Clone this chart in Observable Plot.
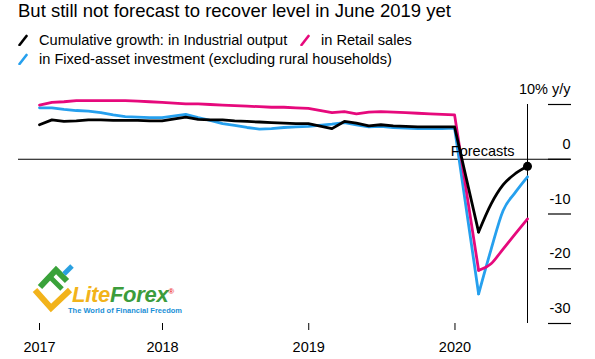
<!DOCTYPE html>
<html><head><meta charset="utf-8">
<script src="https://cdn.jsdelivr.net/npm/d3@7"></script>
<script src="https://cdn.jsdelivr.net/npm/@observablehq/plot@0.6"></script>
<style>
body{margin:0;background:#fff;font-family:"Liberation Sans",Arial,sans-serif;color:#000}
#wrap{position:relative;width:595px;height:359px;overflow:hidden;background:#fff}
#title{position:absolute;left:18px;top:0px;font-size:18.5px;line-height:21px;white-space:nowrap}
.leg{position:absolute;font-size:14.6px;line-height:18px;white-space:nowrap}
.leg svg{vertical-align:-1px;margin-right:11px}
#chart{position:absolute;left:0;top:72px}
#logo{position:absolute;left:0;top:250px;width:200px;height:70px}
#lt{position:absolute;left:72px;top:282px;font-size:22px;font-weight:bold;font-style:italic;white-space:nowrap;letter-spacing:-0.3px}
#ls{position:absolute;left:68px;top:306px;font-size:7.5px;font-weight:bold;color:#1a8fd6;white-space:nowrap}
</style></head><body>
<div id="wrap">
  <div id="title">But still not forecast to recover level in June 2019 yet</div>
  <div class="leg" id="leg1" style="left:18px;top:31px"></div>
  <div class="leg" id="leg2" style="left:300px;top:31px"></div>
  <div class="leg" id="leg3" style="left:18px;top:50px"></div>
  <div id="chart"></div>
  <svg id="logo" viewBox="0 250 200 70">
    <polyline points="35,290 51,308 70,290" fill="none" stroke="#f2b31b" stroke-width="6"/>
    <polyline points="40,287 56,270 67,281" fill="none" stroke="#3aa23a" stroke-width="6"/>
    <line x1="48" y1="275" x2="62" y2="289" stroke="#3aa23a" stroke-width="5"/>
    <line x1="64" y1="274" x2="72" y2="266" stroke="#2aa0e0" stroke-width="5"/>
  </svg>
  <div id="lt"><span style="color:#f2b31b">Lite</span><span style="color:#3c9c3c">Forex</span><sup style="color:#e33;font-size:8px;font-style:normal">®</sup></div>
  <div id="ls">The World of Financial Freedom</div>
</div>
<script>
// ---- data (cumulative y/y growth, %) ----
const months = [
  "2017-02","2017-03","2017-04","2017-05","2017-06","2017-07","2017-08","2017-09","2017-10","2017-11","2017-12",
  "2018-02","2018-03","2018-04","2018-05","2018-06","2018-07","2018-08","2018-09","2018-10","2018-11","2018-12",
  "2019-02","2019-03","2019-04","2019-05","2019-06","2019-07","2019-08","2019-09","2019-10","2019-11","2019-12",
  "2020-02","2020-03","2020-04","2020-05","2020-06"
];
const firstForecastMonth = "2020-02"; // forecast segment starts at the last actual point
const industrialOutput = [
  6.3, 7.2, 6.9, 7.0, 7.2, 7.2, 7.1, 7.1, 7.1, 7.0, 7.0,
  7.7, 7.3, 7.2, 7.2, 7.0, 6.9, 6.8, 6.7, 6.6, 6.5, 6.5,
  5.6, 6.9, 6.6, 6.1, 6.3, 6.1, 6.0, 5.9, 5.9, 5.9, 5.9,
  -13.3, -8.2, -4.7, -2.6, -1.3
];
const retailSales = [
  9.9, 10.4, 10.5, 10.7, 10.7, 10.7, 10.7, 10.7, 10.6, 10.5, 10.4,
  10.1, 10.1, 10.0, 9.9, 9.8, 9.7, 9.6, 9.5, 9.5, 9.4, 9.3,
  8.5, 8.7, 8.3, 8.6, 8.7, 8.6, 8.5, 8.4, 8.3, 8.2, 8.1,
  -20.3, -19.1, -16.4, -13.6, -10.9
];
const fixedAssetInvestment = [
  9.4, 9.4, 9.1, 8.9, 8.8, 8.5, 8.1, 7.8, 7.7, 7.6, 7.6,
  8.2, 7.6, 7.1, 6.5, 6.2, 5.8, 5.5, 5.6, 5.8, 5.9, 6.0,
  6.4, 6.7, 6.3, 5.9, 6.0, 5.8, 5.7, 5.6, 5.6, 5.6, 5.7,
  -24.6, -16.5, -9.4, -6.0, -3.2
];
const seriesNames = [
  "Cumulative growth: in Industrial output",
  "in Retail sales",
  "in Fixed-asset investment (excluding rural households)"
];
const seriesColors = ["#000000", "#e6097c", "#26a0ee"];
const xTickLabels = ["2017", "2018", "2019", "2020"];
const xTickDates = ["2017-02", "2018-01", "2019-01", "2020-01"];
const yTicks = [10, 0, -10, -20, -30];
const yTickLabels = ["10% y/y", "0", "-10", "-20", "-30"];
const forecastLabel = "Forecasts";

// ---- build ----
const parseM = d3.utcParse("%Y-%m");
const monthEnd = s => d3.utcDay.offset(d3.utcMonth.offset(parseM(s), 1), -1);
const dates = months.map(monthEnd);
const xTicks = xTickDates.map((s, i) => i === 0 ? monthEnd(s) : parseM(s));
const fIdx = months.indexOf(firstForecastMonth);
const allSeries = [industrialOutput, retailSales, fixedAssetInvestment];
const hist = [], fcst = [];
[2, 1, 0].forEach(si => allSeries[si].forEach((v, i) => {
  const r = {date: dates[i], value: v, series: seriesNames[si]};
  if (i <= fIdx) hist.push(r);
  if (i >= fIdx) fcst.push(r);
}));
const lastDate = dates[dates.length - 1];
const lastBlack = {date: lastDate, value: industrialOutput[industrialOutput.length - 1]};

// legend
const sw = c => `<svg width="10" height="12"><line x1="1.5" y1="11" x2="8.5" y2="2" stroke="${c}" stroke-width="2.6" stroke-linecap="round"/></svg>`;
["leg1", "leg2", "leg3"].forEach((id, i) => {
  document.getElementById(id).innerHTML = sw(seriesColors[i]) + seriesNames[i];
});

const chart = Plot.plot({
  width: 595,
  height: 287,
  marginTop: 32,
  marginBottom: 36,
  marginLeft: 18,
  marginRight: 25,
  style: {fontFamily: '"Liberation Sans", Arial, sans-serif', fontSize: "14px", color: "#000", background: "transparent"},
  x: {type: "utc", domain: [dates[0], lastDate], insetLeft: 21, insetRight: 43},
  y: {domain: [d3.min(yTicks), d3.max(yTicks)]},
  color: {domain: seriesNames, range: seriesColors},
  marks: [
    Plot.ruleY([0], {stroke: "#000", strokeWidth: 1}),
    Plot.ruleX([lastDate], {y1: d3.min(yTicks), y2: d3.max(yTicks), stroke: "#000", strokeWidth: 1}),
    Plot.axisY(yTicks, {anchor: "right", tickSize: 23, dx: -23, tickFormat: () => "", label: null, stroke: "#000", strokeWidth: 1.2}),
    Plot.text(yTicks, {y: d => d, text: (d, i) => yTickLabels[i], frameAnchor: "right", textAnchor: "end", dy: -15, fontSize: 14.5, fill: "#000"}),
    Plot.axisX(xTicks, {tickSize: 7, tickPadding: 11, tickFormat: (d, i) => xTickLabels[i], label: null, fontSize: 14.5, stroke: "#000"}),
    Plot.line(hist, {x: "date", y: "value", z: "series", stroke: "series", strokeWidth: 2.8, strokeLinejoin: "round"}),
    Plot.line(fcst, {x: "date", y: "value", z: "series", stroke: "series", strokeWidth: 2.8, curve: "monotone-x"}),
    Plot.dot([lastBlack], {x: "date", y: "value", r: 4.5, fill: "#000"}),
    Plot.text([{date: lastDate, value: 0}], {x: "date", y: "value", text: () => forecastLabel, textAnchor: "end", lineAnchor: "bottom", dx: -13, dy: -3, fontSize: 14.5, fill: "#000"})
  ]
});
document.getElementById("chart").appendChild(chart);
</script>
</body></html>
